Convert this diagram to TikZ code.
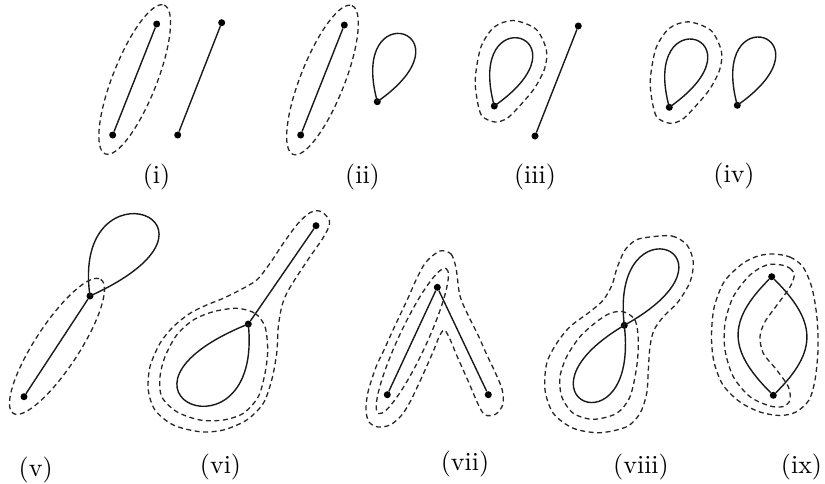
\documentclass[tikz,border=0pt]{standalone}
\usetikzlibrary{calc}
\begin{document}
\begin{tikzpicture}[x=1pt,y=-1pt,
  dot/.style={circle,fill=black,inner sep=0pt,minimum size=7pt},
  edge/.style={line width=1.4pt,black!90},
  halo/.style={line width=1.3pt,black!85,dash pattern=on 5pt off 3.5pt},
  lab/.style={anchor=base,font=\fontsize{10}{12}\selectfont,inner sep=0pt,scale=2.6}]
\useasboundingbox (0,0) rectangle (825,483);
\def\tearpts{(0.7,16) (-13,9) (-18.5,-15) (-18.5,-33) (-13,-60) (0,-79) (19,-85.5) (41.5,-77) (52,-56.5) (50.5,-38) (40,-17.5) (23,2.5) (12.4,12.5)}

% ---------- (i)
\node[dot] (a1) at (112.7,135) {};
\node[dot] (b1) at (156.7,24) {};
\node[dot] (c1) at (177.7,135) {};
\node[dot] (d1) at (221.7,22.7) {};
\draw[edge] (a1) -- (b1);
\draw[edge] (c1) -- (d1);
\draw[halo,rotate around={68.4:($(a1)!0.5!(b1)$)}] ($(a1)!0.5!(b1)$) ellipse [x radius=80,y radius=22];
\node[lab] (l1) at (156.5,183.5) {(i)};

% ---------- (ii)
\node[dot] (a2) at (300.7,135) {};
\node[dot] (b2) at (344.3,25) {};
\node[dot] (c2) at (377.3,101.7) {};
\draw[edge] (a2) -- (b2);
\draw[edge] (c2.center) .. controls ($(c2)+(-30,-110)$) and ($(c2)+(100,-70)$) .. (c2.center);
\draw[halo,rotate around={68.4:($(a2)!0.5!(b2)$)}] ($(a2)!0.5!(b2)$) ellipse [x radius=80,y radius=22];
\node[lab] (l2) at (362.5,183.5) {(ii)};

% ---------- (iii)
\node[dot] (c3) at (494.3,106) {};
\node[dot] (a3) at (535,136) {};
\node[dot] (b3) at (578.3,26) {};
\draw[edge] (a3) -- (b3);
\draw[edge] (c3.center) .. controls ($(c3)+(-30,-110)$) and ($(c3)+(100,-70)$) .. (c3.center);
\draw[halo,shift={(c3.center)}] plot[smooth cycle] coordinates {\tearpts};
\node[lab] (l3) at (535,183.5) {(iii)};

% ---------- (iv)
\node[dot] (c4) at (669.3,107.3) {};
\node[dot] (d4) at (737.3,105.3) {};
\draw[edge] (c4.center) .. controls ($(c4)+(-30,-110)$) and ($(c4)+(100,-70)$) .. (c4.center);
\draw[edge] (d4.center) .. controls ($(d4)+(-30,-110)$) and ($(d4)+(100,-70)$) .. (d4.center);
\draw[halo,shift={(c4.center)}] plot[smooth cycle] coordinates {\tearpts};
\node[lab] (l4) at (734,182) {(iv)};

% ---------- (v)
\node[dot] (a5) at (24,396.7) {};
\node[dot] (b5) at (90,296) {};
\draw[edge] (a5) -- (b5);
\draw[edge] (b5.center) .. controls ($(b5)+(-20,-140)$) and ($(b5)+(165,-75)$) .. (b5.center);
\draw[halo,rotate around={56.8:($(a5)!0.5!(b5)$)}] ($(a5)!0.5!(b5)$) ellipse [x radius=80,y radius=22];
\node[lab] (l5) at (35.7,476.5) {(v)};

% ---------- (vi)
\node[dot] (a6) at (248.3,324) {};
\node[dot] (b6) at (316,225.7) {};
\draw[edge] (a6) -- (b6);
\draw[edge] (a6.center) .. controls ($(a6)+(15,145)$) and ($(a6)+(-168,68)$) .. (a6.center);
\draw[halo] plot[smooth cycle] coordinates {(321.7,211.7) (329.3,220) (328.3,228) (321.7,240) (310,256.7) (296.7,276.7) (286.7,293.3) (281.7,306.7) (278.3,326.7) (276.7,353.3) (271.7,380) (263.3,403.3) (246.7,420) (223.3,430) (200,431.7) (173.3,425) (155,410) (148.3,390) (150,366.7) (160,343.3) (173.3,326.7) (190,313.3) (206.7,305) (223.3,298.3) (240,290) (256.7,280) (270,263.3) (283.3,243.3) (296.7,225) (306.7,215) (314,211)};
\draw[halo] plot[smooth cycle] coordinates {(236.7,308.3) (255,313.3) (265,326.7) (267.7,350) (265,373.3) (258.3,396.7) (243.3,413.3) (223.3,420) (200,420) (176.7,411.7) (161.7,396.7) (160,376.7) (165,356.7) (176.7,335) (193.3,320) (213.3,311.7)};
\node[lab] (l6) at (220.5,473.5) {(vi)};

% ---------- (vii)
\node[dot] (a7) at (387.3,394.7) {};
\node[dot] (b7) at (437.3,287.3) {};
\node[dot] (c7) at (488.3,394.7) {};
\draw[edge] (a7) -- (b7);
\draw[edge] (b7) -- (c7);
\draw[halo,rotate around={65:($(a7)!0.5!(b7)$)}] ($(a7)!0.5!(b7)$) ellipse [x radius=80,y radius=14];
\draw[halo] plot[smooth cycle] coordinates {(440,251) (451,254) (456,268) (460,296) (469,317) (478,335) (486,353) (495,372) (502,389) (503,404) (496,414) (485,415) (478,404) (469,383) (457,356) (449,337) (444,330) (439,337) (433,352) (421,379) (410,402) (401,416) (390,425) (378,427) (369,422) (366,410) (368,392) (376,367) (384,350) (393,330) (401,313) (409,296) (416,280) (426,262)};
\node[lab] (l7) at (465,470) {(vii)};

% ---------- (viii)
\node[dot] (a8) at (624.3,325.3) {};
\draw[edge] (a8.center) .. controls ($(a8)+(-15,-128)$) and ($(a8)+(130,-72)$) .. (a8.center);
\draw[edge] (a8.center) .. controls ($(a8)+(15,130)$) and ($(a8)+(-122,72)$) .. (a8.center);
\draw[halo] plot[smooth cycle] coordinates {(623.3,311.7) (635,320) (638.3,340) (636.7,366.7) (630,396.7) (616.7,413.3) (593.3,419.3) (573.3,413.3) (561.7,396.7) (560,376.7) (566.7,356.7) (580,336.7) (596.7,321.7) (610,313.3)};
\draw[halo] plot[smooth cycle] coordinates {(650,237) (672,236) (687,245) (693.3,262) (690,282) (678,302) (664,316) (654,330) (650,346.7) (648.3,370) (646.7,393.3) (640,413.3) (626.7,426.7) (600,432.7) (573.3,428.3) (553.3,413.3) (545,390) (546.7,363.3) (556.7,343.3) (570,326.7) (590,311.7) (603.3,300) (612,285) (617,268) (625,250) (636,240)};
\node[lab] (l8) at (641,473.5) {(viii)};

% ---------- (ix)
\node[dot] (a9) at (771.7,276.7) {};
\node[dot] (b9) at (773.3,395.3) {};
\draw[edge] (a9) .. controls ($(a9)+(-45,45)$) and ($(b9)+(-45,-45)$) .. (b9);
\draw[edge] (a9) .. controls ($(a9)+(45,45)$) and ($(b9)+(45,-45)$) .. (b9);
\draw[halo] plot[smooth cycle] coordinates {(781.7,265) (790,268.3) (794.3,275) (790,287) (778.3,303.3) (765,321.7) (760,336.7) (763.3,353.3) (776.7,370) (788.3,386.7) (790,400) (783.3,406.5) (770,406) (750,396.7) (733.3,376.7) (725,350) (725,323.3) (733.3,296.7) (750,275) (766.7,265)};
\draw[halo] plot[smooth cycle] coordinates {(773,254) (790,257) (803,267) (812,288) (817,318) (818,350) (815,380) (809,400) (796,412) (780,415.5) (760,412) (740,402) (723,385) (714,362) (711.5,337) (714,308) (724,282) (742,264) (758,256)};
\node[lab] (l9) at (801.5,473.5) {(ix)};
\end{tikzpicture}
\end{document}
